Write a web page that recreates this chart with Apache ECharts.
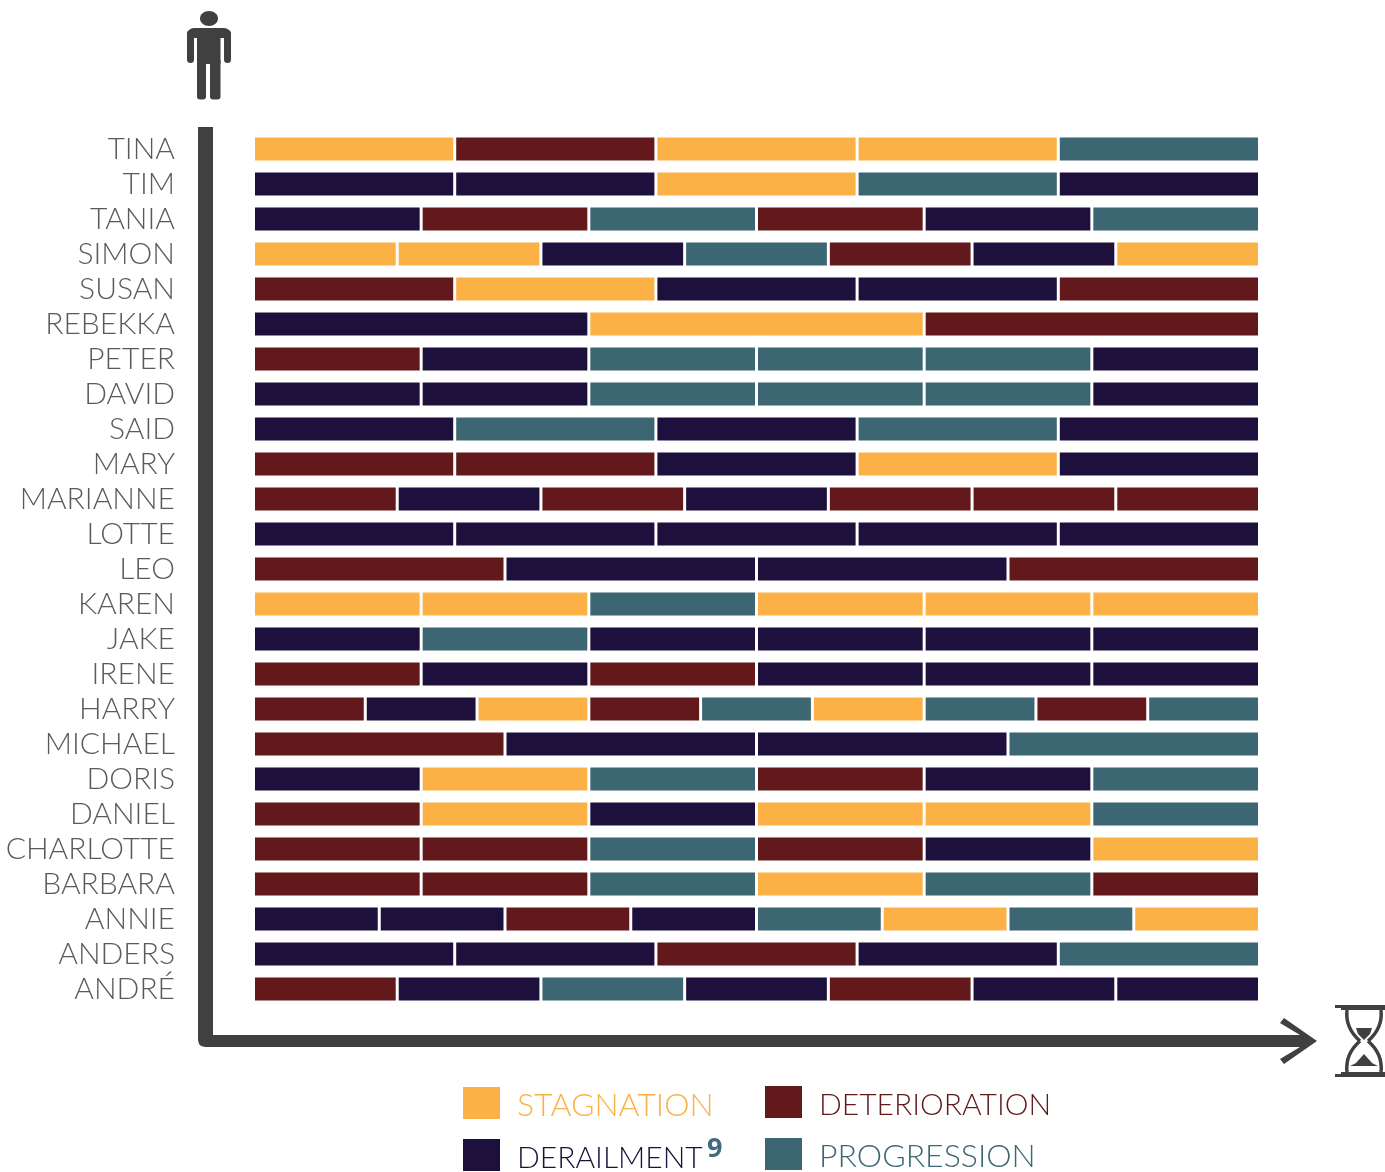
<!DOCTYPE html>
<html>
<head>
<meta charset="utf-8">
<title>Trajectories</title>
<style>
  html, body { margin: 0; padding: 0; background: #fff; }
  #main { width: 1385px; height: 1172px; }
</style>
<script src="https://cdn.jsdelivr.net/npm/echarts@6/dist/echarts.min.js"></script>
</head>
<body>
<div id="main"></div>
<script>
var people = ['TINA','TIM','TANIA','SIMON','SUSAN','REBEKKA','PETER','DAVID','SAID','MARY','MARIANNE','LOTTE','LEO','KAREN','JAKE','IRENE','HARRY','MICHAEL','DORIS','DANIEL','CHARLOTTE','BARBARA','ANNIE','ANDERS','ANDRÉ'];

// one letter per period: S stagnation, X deterioration, D derailment, P progression
var periods = ['SXSSP','DDSPD','DXPXDP','SSDPXDS','XSDDX','DSX','XDPPPD','DDPPPD','DPDPD','XXDSD','XDXDXXX','DDDDD','XDDX','SSPSSS','DPDDDD','XDXDDD','XDSXPSPXP','XDDP','DSPXDP','XSDSSP','XXPXDS','XXPSPX','DDXDPSPS','DDXDP','XDPDXDD'];

var stateCodes = ['S','X','D','P'];
var stateNames = ['STAGNATION','DETERIORATION','DERAILMENT','PROGRESSION'];
var stateColors = ['#fbb146','#63191b','#1e103c','#3b6672'];
var legendSizes = [32, 30, 30, 32];

var font = 'Lato';
var GAP = 3;
var BAR_H = 23;

function rowsFor(code) {
  var out = [];
  periods.forEach(function (seq, row) {
    for (var i = 0; i < seq.length; i++) {
      if (seq[i] === code) out.push([row, i / seq.length, (i + 1) / seq.length]);
    }
  });
  return out;
}

function renderSegment(params, api) {
  var a = api.coord([api.value(1), api.value(0)]);
  var b = api.coord([api.value(2), api.value(0)]);
  return {
    type: 'rect',
    shape: { x: a[0], y: a[1] - BAR_H / 2, width: b[0] - a[0] - GAP, height: BAR_H },
    style: { fill: api.visual('color') }
  };
}

function legendEntry(i) {
  return { name: stateNames[i], textStyle: { color: stateColors[i], fontSize: legendSizes[i] } };
}

function legendAt(left, items) {
  return {
    left: left,
    top: 1084,
    height: 110,
    orient: 'vertical',
    padding: 0,
    itemWidth: 37,
    itemHeight: 32,
    itemGap: 15,
    icon: 'rect',
    selectedMode: false,
    data: items,
    formatter: '{n|{name}}',
    textStyle: { fontFamily: font, fontWeight: 300, rich: { n: { padding: [6, 0, 0, 12], lineHeight: 26 } } }
  };
}

var axisColor = '#404040';

function block(x, y, w, h, r) {
  return { type: 'rect', silent: true, shape: { x: x, y: y, width: w, height: h, r: r }, style: { fill: axisColor } };
}
function poly(points) {
  return { type: 'polygon', silent: true, shape: { points: points }, style: { fill: axisColor } };
}
function curve(x1, y1, cx, cy, x2, y2) {
  return { type: 'bezierCurve', silent: true,
    shape: { x1: x1, y1: y1, cpx1: cx, cpy1: cy, x2: x2, y2: y2 },
    style: { fill: null, stroke: axisColor, lineWidth: 3.5 } };
}

var myChart = echarts.init(document.getElementById('main'), null, { renderer: 'canvas' });

var option = {
  animation: false,
  backgroundColor: '#fff',
  grid: { left: 255, top: 131.5, width: 1006, height: 875 },
  xAxis: { type: 'value', min: 0, max: 1, show: false },
  yAxis: {
    type: 'category',
    data: people,
    inverse: true,
    axisLine: { show: false },
    axisTick: { show: false },
    axisLabel: { interval: 0, margin: 80, fontFamily: font, fontWeight: 300, fontSize: 30, color: '#5a5a5a' }
  },
  legend: [
    legendAt(463, [legendEntry(0), legendEntry(2)]),
    legendAt(765, [legendEntry(1), legendEntry(3)])
  ],
  series: stateCodes.map(function (code, i) {
    return {
      type: 'custom',
      name: stateNames[i],
      itemStyle: { color: stateColors[i] },
      renderItem: renderSegment,
      encode: { x: [1, 2], y: 0 },
      data: rowsFor(code)
    };
  }),
  graphic: [
    // L shaped axis with the arrow head
    poly([[198, 127], [213, 127], [213, 1035], [1300, 1035], [1280, 1023], [1284, 1018], [1317, 1041], [1284, 1064], [1280, 1059], [1300, 1047], [205, 1047], [201, 1046], [199, 1044], [198, 1040]]),
    // person
    { type: 'ellipse', silent: true, shape: { cx: 209, cy: 18.5, rx: 9, ry: 7.5 }, style: { fill: axisColor } },
    block(187, 28, 44, 10, [7, 7, 0, 0]),
    block(187, 30, 7, 33, 3.5),
    block(224, 30, 7, 33, 3.5),
    block(197, 30, 23.5, 34),
    block(197, 60, 9, 39.5, [0, 0, 3, 3]),
    block(210, 60, 10.5, 39.5, [0, 0, 3, 3]),
    // hourglass
    poly([[1335, 1005], [1385, 1005], [1385, 1010], [1341, 1010], [1341, 1008], [1335, 1008]]),
    poly([[1335, 1077], [1385, 1077], [1385, 1072], [1341, 1072], [1341, 1074], [1335, 1074]]),
    poly([[1356, 1028], [1372, 1028], [1370, 1034], [1364, 1040], [1358, 1034]]),
    poly([[1350, 1066], [1356, 1063], [1364, 1054], [1372, 1063], [1378, 1066]]),
    curve(1347, 1010, 1345, 1028, 1360, 1041),
    curve(1360, 1041, 1345, 1054, 1347, 1072),
    curve(1381, 1010, 1383, 1028, 1368, 1041),
    curve(1368, 1041, 1383, 1054, 1381, 1072),
    // footnote mark on the derailment entry
    { type: 'text', silent: true, x: 707, y: 1136,
      style: { text: '9', fill: '#3f6b7d', fontFamily: 'Open Sans', fontWeight: 'bold', fontSize: 27 } }
  ]
};

myChart.setOption(option);
</script>
</body>
</html>
